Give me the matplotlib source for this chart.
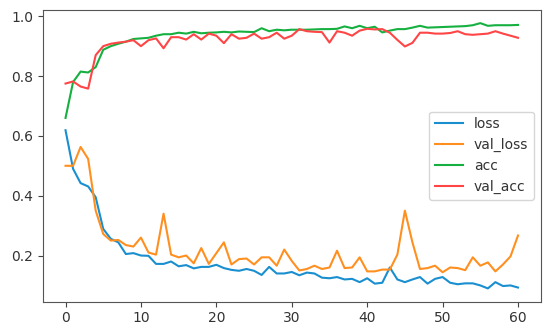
import numpy as np
import matplotlib
matplotlib.use("Agg")
import matplotlib.pyplot as plt

# training history (61 epochs)
epochs = np.arange(61)

loss = [0.619, 0.49, 0.442, 0.431, 0.395, 0.289, 0.256, 0.244, 0.205, 0.208,
        0.2, 0.199, 0.172, 0.172, 0.18, 0.164, 0.168, 0.157, 0.162, 0.162,
        0.169, 0.158, 0.152, 0.149, 0.155, 0.149, 0.135, 0.162, 0.14, 0.14,
        0.145, 0.134, 0.143, 0.14, 0.126, 0.124, 0.128, 0.12, 0.122, 0.111,
        0.124, 0.106, 0.109, 0.16, 0.12, 0.111, 0.12, 0.128, 0.106, 0.122,
        0.128, 0.109, 0.104, 0.107, 0.107, 0.1, 0.09, 0.111, 0.098, 0.1,
        0.093]

val_loss = [0.5, 0.5, 0.563, 0.523, 0.35, 0.272, 0.25, 0.252, 0.235, 0.23,
            0.26, 0.21, 0.203, 0.34, 0.203, 0.194, 0.2, 0.174, 0.225, 0.172,
            0.208, 0.244, 0.17, 0.188, 0.19, 0.17, 0.194, 0.194, 0.166, 0.22,
            0.182, 0.15, 0.155, 0.166, 0.155, 0.16, 0.216, 0.158, 0.16, 0.194,
            0.147, 0.147, 0.153, 0.153, 0.203, 0.35, 0.244, 0.155, 0.158, 0.166,
            0.144, 0.16, 0.158, 0.151, 0.194, 0.166, 0.177, 0.147, 0.17, 0.197,
            0.267]

acc = [0.66, 0.78, 0.815, 0.812, 0.83, 0.888, 0.9, 0.908, 0.915, 0.924,
       0.926, 0.928, 0.935, 0.94, 0.94, 0.945, 0.942, 0.948, 0.943, 0.945,
       0.946, 0.948, 0.946, 0.949, 0.948, 0.947, 0.96, 0.95, 0.955, 0.953,
       0.955, 0.955, 0.955, 0.956, 0.957, 0.957, 0.958, 0.966, 0.96, 0.968,
       0.96, 0.965, 0.946, 0.952, 0.957, 0.957, 0.962, 0.968, 0.962, 0.963,
       0.964, 0.965, 0.966, 0.967, 0.97, 0.977, 0.968, 0.97, 0.97, 0.97,
       0.971]

val_acc = [0.775, 0.782, 0.765, 0.758, 0.87, 0.9, 0.908, 0.912, 0.915, 0.92,
           0.9, 0.92, 0.926, 0.893, 0.93, 0.93, 0.922, 0.94, 0.922, 0.942,
           0.935, 0.91, 0.94, 0.925, 0.928, 0.942, 0.925, 0.93, 0.945, 0.925,
           0.935, 0.957, 0.95, 0.948, 0.947, 0.912, 0.95, 0.945, 0.935, 0.952,
           0.958, 0.956, 0.957, 0.945, 0.921, 0.899, 0.911, 0.945, 0.945, 0.942,
           0.942, 0.944, 0.95, 0.94, 0.938, 0.94, 0.942, 0.95, 0.942, 0.935,
           0.928]

# the reference looks a bit more saturated than plain tab10
plt.rcParams['text.color'] = '#333333'
plt.rcParams['xtick.color'] = '#444444'
plt.rcParams['ytick.color'] = '#444444'
plt.rcParams['xtick.labelcolor'] = '#333333'
plt.rcParams['ytick.labelcolor'] = '#333333'
plt.rcParams['axes.edgecolor'] = '#555555'

fig = plt.figure(figsize=(5.5, 3.29), dpi=100)
ax = fig.add_subplot(111)
ax.plot(epochs, loss, color='#1a8fd0', label="loss")
ax.plot(epochs, val_loss, color='#ff9020', label="val_loss")
ax.plot(epochs, acc, color='#16b040', label="acc")
ax.plot(epochs, val_acc, color='#ff4545', label="val_acc")
ax.legend(loc="center right")

fig.subplots_adjust(left=0.078, right=0.983, bottom=0.083, top=0.97)
fig.savefig("out.png", dpi=100)
